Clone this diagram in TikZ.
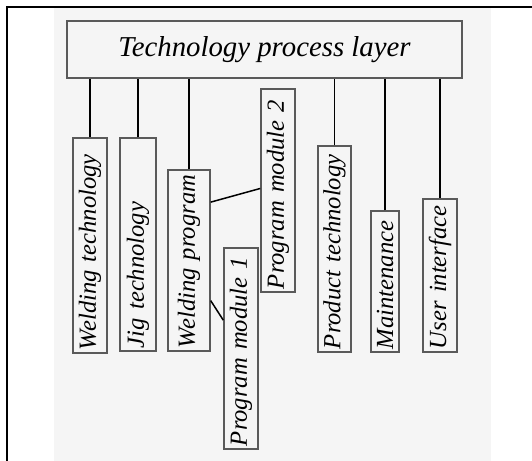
\documentclass[tikz,border=0pt]{standalone}
\usepackage{fontspec}
\setmainfont{Liberation Serif}
\usepackage{tikz}
\usetikzlibrary{calc}

\definecolor{paper}{HTML}{F5F5F5}
\definecolor{edge}{HTML}{5A5A5A}

\begin{document}
\begin{tikzpicture}[
  x=0.5pt,y=-0.5pt,
  every node/.style={font=\fontsize{12.3}{14}\selectfont\itshape},
  layer/.style={draw=edge,line width=0.7pt,fill=paper,inner sep=0pt},
  vbox/.style={draw=edge,line width=0.7pt,fill=paper,rotate=90,
               inner xsep=1.5pt,inner ysep=0pt,align=left},
  link/.style={line width=0.75pt}
]
  % frame and page
  \useasboundingbox (0,0) rectangle (532,461);
  \fill[paper] (54,8) rectangle (491,461);
  \draw[line width=1.1pt] (7,461) |- (532,7);

  \node[layer,minimum width=197.5pt,minimum height=28.5pt] (top) at (264.5,49.5)
       {\fontsize{14.4}{16}\selectfont Technology process layer};

  % vertical boxes: width = length along text, height = thickness
  \node[vbox,minimum width=107.5pt,minimum height=17pt,text width=104.5pt] (wtech) at (90,245.5) {Welding~technology};
  \node[vbox,minimum width=106.5pt,minimum height=18pt,text width=103.5pt] (jig)   at (138,244.5) {Jig~technology};
  \node[vbox,minimum width=90.5pt,minimum height=21pt,text width=87.5pt]  (wprog) at (189,260.5) {Welding~program};
  \node[vbox,minimum width=101.5pt,minimum height=17pt,text width=98.5pt] (pmtwo) at (278,190.5) {Program~module~2};
  \node[vbox,minimum width=100.5pt,minimum height=17pt,text width=97.5pt] (pmone) at (241,348.5) {Program~module~1};
  \node[vbox,minimum width=103pt,minimum height=16.5pt,text width=100pt]  (ptech) at (334.5,249) {Product~technology};
  \node[vbox,minimum width=70.5pt,minimum height=14pt,text width=67.5pt]  (maint) at (385,281.5) {Maintenance};
  \node[vbox,minimum width=76.5pt,minimum height=17pt,text width=73.5pt]  (ui)    at (440,275.5) {User~interface};

  % links up to the layer
  \foreach \n in {wtech,jig,wprog,ptech,maint,ui}
    \draw[link] (\n.east) -- (\n.east |- top.south);

  % program modules
  \draw[link] ($(wprog.south east)!0.18!(wprog.south west)$) -- ($(pmtwo.north east)!0.49!(pmtwo.north west)$);
  \draw[link] ($(wprog.south east)!0.72!(wprog.south west)$) -- ($(pmone.north east)!0.36!(pmone.north west)$);
\end{tikzpicture}
\end{document}
